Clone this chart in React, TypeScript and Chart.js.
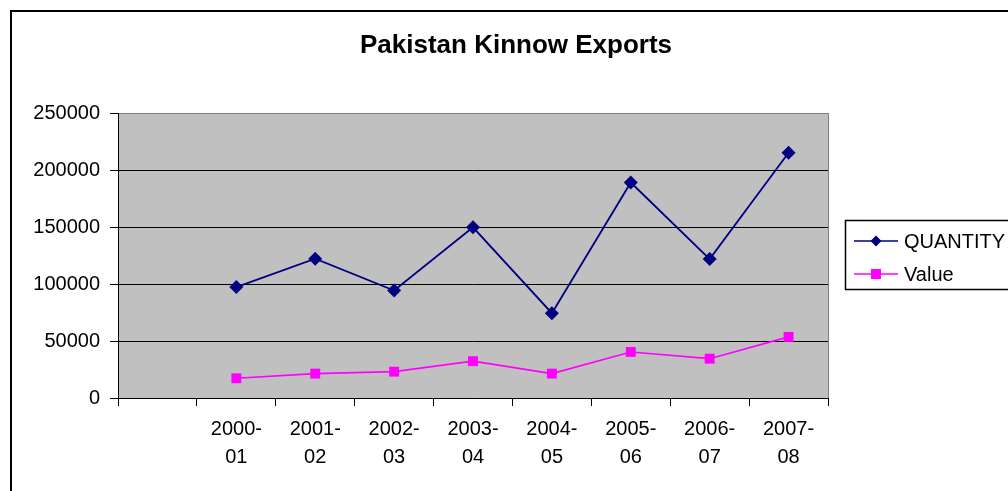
import React, { useEffect, useRef } from 'react';
import { Chart, registerables } from 'chart.js';

Chart.register(...registerables);

const chartTitle = 'Pakistan Kinnow Exports';
const categories = ['2000-01', '2001-02', '2002-03', '2003-04', '2004-05', '2005-06', '2006-07', '2007-08'];
const quantity = [97300, 122200, 94300, 149700, 74400, 189000, 121900, 215100];
const value = [17300, 21400, 23100, 32300, 21400, 40400, 34500, 53600];
const yTicks = [0, 50000, 100000, 150000, 200000, 250000];
const seriesNames = ['QUANTITY', 'Value'];

const FONT = '"Liberation Sans", Arial, sans-serif';

function drawMarker(ctx: CanvasRenderingContext2D, style: string, x: number, y: number, color: string) {
  ctx.save();
  ctx.fillStyle = color;
  ctx.beginPath();
  if (style === 'rectRot') {
    const r = 5.5;
    ctx.moveTo(x, y - r);
    ctx.lineTo(x + r, y);
    ctx.lineTo(x, y + r);
    ctx.lineTo(x - r, y);
    ctx.closePath();
  } else {
    ctx.rect(x - 5, y - 5, 10, 10);
  }
  ctx.fill();
  ctx.restore();
}

const decorPlugin = {
  id: 'decor',
  beforeDraw(chart: any) {
    const { ctx, chartArea } = chart;
    ctx.save();
    ctx.fillStyle = '#C0C0C0';
    ctx.fillRect(chartArea.left, chartArea.top, chartArea.right - chartArea.left, chartArea.bottom - chartArea.top);
    ctx.restore();
  },
  afterDraw(chart: any) {
    const { ctx, chartArea } = chart;
    ctx.save();
    // right plot border (gray)
    ctx.strokeStyle = '#808080';
    ctx.lineWidth = 1;
    ctx.beginPath();
    ctx.moveTo(Math.round(chartArea.right) + 0.5, chartArea.top);
    ctx.lineTo(Math.round(chartArea.right) + 0.5, chartArea.bottom);
    ctx.stroke();

    // outer chart border
    ctx.strokeStyle = '#000';
    ctx.lineWidth = 2;
    ctx.strokeRect(11, 11, 1100, 600);

    // title
    ctx.fillStyle = '#000';
    ctx.font = 'bold 26px ' + FONT;
    ctx.textAlign = 'center';
    ctx.textBaseline = 'alphabetic';
    ctx.fillText(chartTitle, 516, 53);

    // legend
    ctx.lineWidth = 1.5;
    ctx.strokeStyle = '#000';
    ctx.strokeRect(845.5, 220.5, 200, 69);
    ctx.font = '20px ' + FONT;
    ctx.textAlign = 'left';
    ctx.textBaseline = 'middle';
    chart.data.datasets.forEach((ds: any, i: number) => {
      const y = 241 + i * 33;
      ctx.strokeStyle = ds.borderColor;
      ctx.lineWidth = 1.5;
      ctx.beginPath();
      ctx.moveTo(854, y);
      ctx.lineTo(898, y);
      ctx.stroke();
      drawMarker(ctx, ds.pointStyle, 876, y, ds.pointBackgroundColor);
      ctx.fillStyle = '#000';
      ctx.fillText(ds.label, 904, y + 1);
    });
    ctx.restore();
  },
};

export default function App() {
  const ref = useRef<HTMLCanvasElement>(null);
  useEffect(() => {
    if (!ref.current) return;
    const labels = ['', ...categories].map((c) => (c ? [c.slice(0, 5), c.slice(5)] : ''));
    const chart = new Chart(ref.current, {
      type: 'line',
      data: {
        labels,
        datasets: [
          {
            label: seriesNames[0],
            data: [null, ...quantity],
            borderColor: '#000080',
            backgroundColor: '#000080',
            pointBackgroundColor: '#000080',
            pointBorderColor: '#000080',
            pointStyle: 'rectRot',
            pointRadius: 7,
            pointBorderWidth: 0,
            borderWidth: 1.8,
            tension: 0,
          },
          {
            label: seriesNames[1],
            data: [null, ...value],
            borderColor: '#FF00FF',
            backgroundColor: '#FF00FF',
            pointBackgroundColor: '#FF00FF',
            pointBorderColor: '#FF00FF',
            pointStyle: 'rect',
            pointRadius: 7,
            pointBorderWidth: 0,
            borderWidth: 1.6,
            tension: 0,
          },
        ],
      },
      options: {
        animation: false,
        responsive: false,
        events: [],
        layout: { padding: { left: 0, top: 113, right: 180, bottom: 0 } },
        plugins: {
          legend: { display: false },
          title: { display: false },
          tooltip: { enabled: false },
        },
        scales: {
          x: {
            type: 'category',
            offset: true,
            afterFit: (s: any) => { s.height = 93; },
            grid: {
              offset: true,
              drawOnChartArea: false,
              drawTicks: true,
              tickLength: 8,
              color: '#000',
              lineWidth: 1,
            },
            border: { display: true, color: '#000', width: 1 },
            ticks: {
              color: '#000',
              font: { family: FONT, size: 20, lineHeight: 1.38 },
              padding: 10,
              maxRotation: 0,
              autoSkip: false,
            },
          },
          y: {
            min: yTicks[0],
            max: yTicks[yTicks.length - 1],
            afterFit: (s: any) => { s.width = 118; },
            grid: {
              drawOnChartArea: true,
              tickLength: 8,
              color: (c: any) => (c.tick && c.tick.value === yTicks[yTicks.length - 1] ? '#808080' : '#000'),
              tickColor: '#000',
              lineWidth: 1,
            },
            border: { display: true, color: '#000', width: 1 },
            ticks: {
              stepSize: yTicks[1] - yTicks[0],
              color: '#000',
              font: { family: FONT, size: 20 },
              padding: 10,
              callback: (v: any) => String(v),
            },
          },
        },
      },
      plugins: [decorPlugin],
    } as any);
    return () => chart.destroy();
  }, []);
  return (
    <div style={{ position: 'fixed', left: 0, top: 0, width: 1008, height: 491, background: '#fff' }}>
      <canvas ref={ref} width={1008} height={491} style={{ width: 1008, height: 491, display: 'block' }} />
    </div>
  );
}
